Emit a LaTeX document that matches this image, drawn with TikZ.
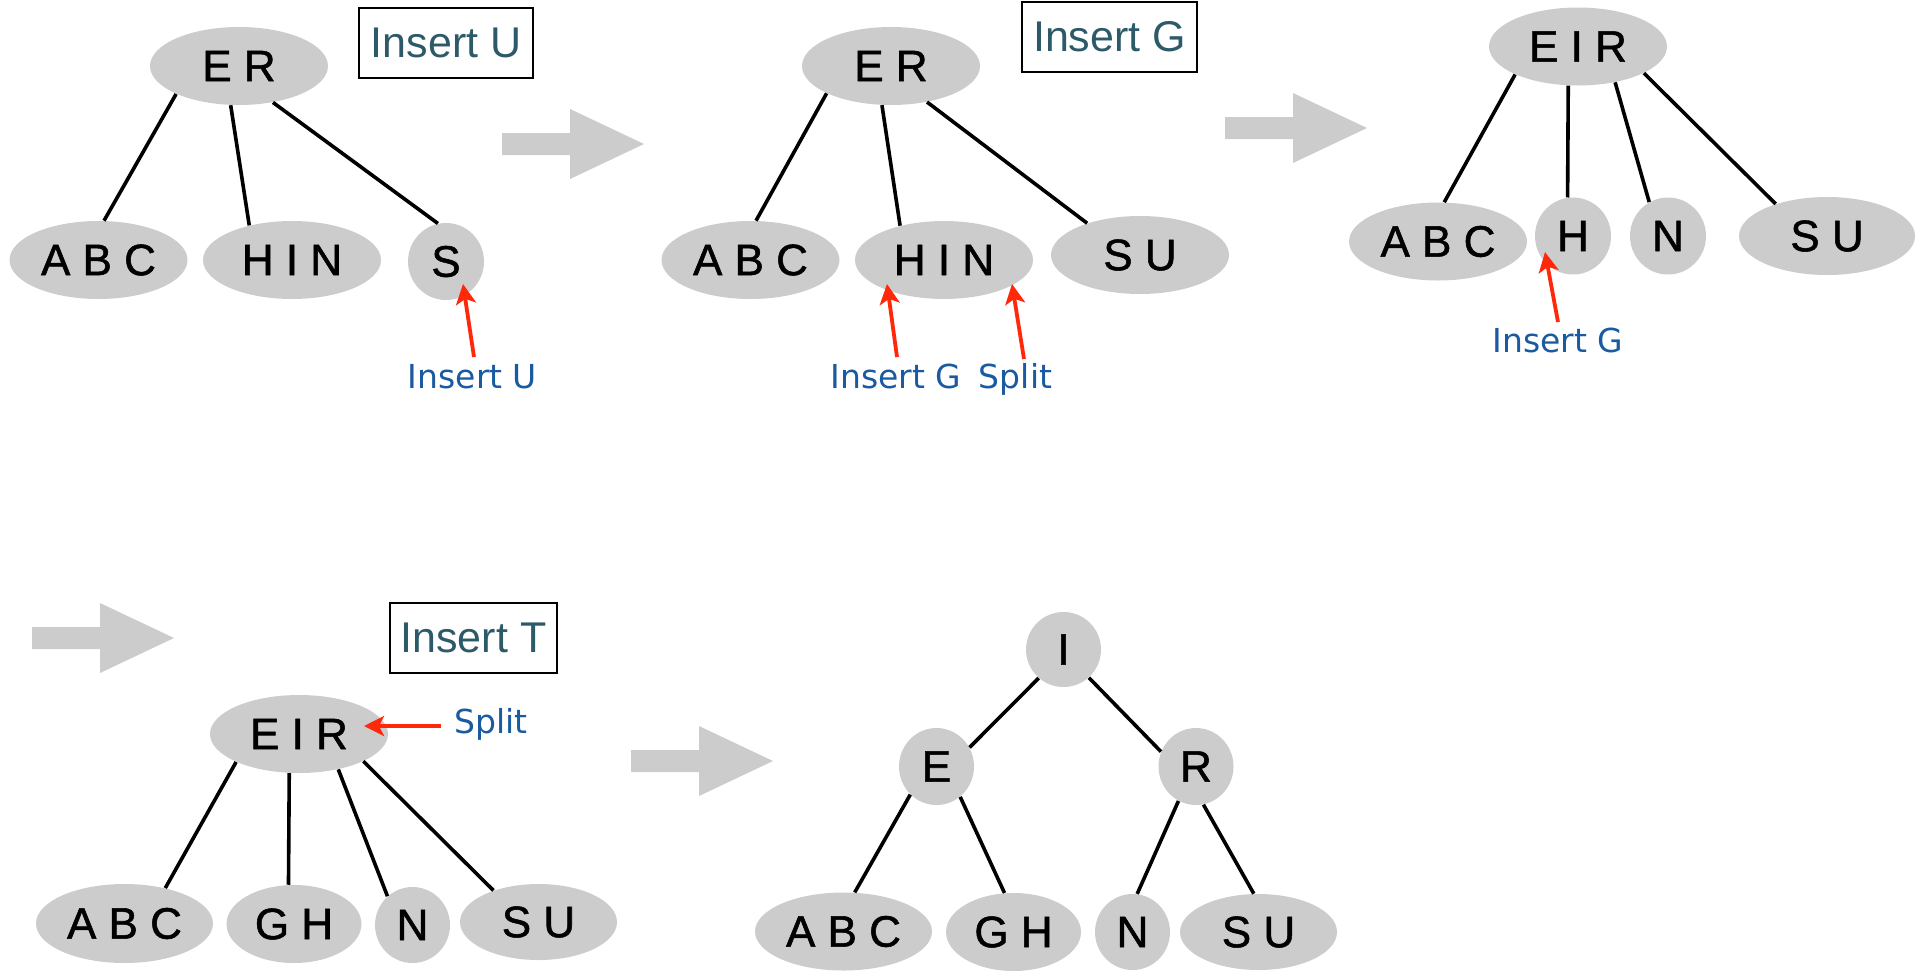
\documentclass[tikz,border=0pt]{standalone}
\usepackage{fontspec}
\setmainfont{Liberation Sans}
\newfontfamily\nodefont{Liberation Sans}[FakeBold=1.2]
\newfontfamily\lblfont{DejaVu Sans}
\usetikzlibrary{shapes.geometric,arrows.meta}
\definecolor{ngray}{RGB}{204,204,204}
\definecolor{boxtxt}{RGB}{45,90,105}
\definecolor{lblblue}{RGB}{25,90,160}
\definecolor{redarr}{RGB}{255,40,10}
\tikzset{
  nd/.style 2 args={ellipse, fill=ngray, inner sep=0pt, minimum width=#1, minimum height=#2, font=\nodefont\fontsize{22}{26}\selectfont},
  big/.style={nd={89pt}{39pt}},
  circ/.style={nd={38pt}{38.5pt}},
  gh/.style={nd={67.5pt}{39pt}},
  sutwo/.style={nd={78.5pt}{38pt}},
  edge/.style={line width=1.8pt, black},
  opbox/.style={draw=black, line width=0.9pt, minimum width=#1, minimum height=35pt, inner sep=0pt, text=boxtxt, font=\fontsize{21.5}{25}\selectfont},
  lbl/.style={text=lblblue, font=\lblfont\fontsize{16.5}{20}\selectfont, anchor=base, inner sep=0pt},
  redarrow/.style={draw=redarr, line width=1.9pt, -{Stealth[length=10pt,width=10pt,inset=2.5pt]}},
}
\newcommand\grayarrow[2]{\fill[ngray] (#1,#2) ++(0,-11) -- ++(68,0) -- ++(0,-24) -- ++(74,35) -- ++(-74,35) -- ++(0,-24) -- ++(-68,0) -- cycle;}
\begin{document}
\begin{tikzpicture}[x=0.5pt,y=-0.5pt]
\useasboundingbox (0,0) rectangle (1915,970);

% gray arrows
\grayarrow{502}{144}
\grayarrow{1225}{128}
\grayarrow{32}{638}
\grayarrow{631}{761}

% ---------- panel 1 ----------
\node[big] (p1er) at (239,66) {E R};
\node[big] (p1abc) at (98.5,260) {A B C};
\node[big] (p1hin) at (292,260) {H I N};
\node[circ] (p1s) at (446,261.5) {S};
\node[opbox=87pt] (p1box) at (446,43) {Insert U};
\node[lbl] (p1lbl) at (472.5,388) {Insert U};
\coordinate (p1a) at (474,357);
\coordinate (p1b) at (463,284);
\draw[edge] (p1er.204) -- (p1abc.82);
\draw[edge] (p1er.258) -- (p1hin.141);
\draw[edge] (p1er.313) -- (p1s.102);
\draw[redarrow] (p1a) -- (p1b);

% ---------- panel 2 ----------
\node[big] (p2er) at (891,66) {E R};
\node[big] (p2abc) at (750.5,260) {A B C};
\node[big] (p2hin) at (944,260) {H I N};
\node[big] (p2su) at (1140,255) {S U};
\node[opbox=87.5pt] (p2box) at (1109.5,37) {Insert G};
\node[lbl] (p2lbl) at (896,388) {Insert G};
\node[lbl] (p2split) at (1015.5,388) {Split};
\coordinate (p2a) at (897,357);
\coordinate (p2b) at (887,284);
\coordinate (p2c) at (1024,359);
\coordinate (p2d) at (1012,284);
\draw[edge] (p2er.203) -- (p2abc.82);
\draw[edge] (p2er.257) -- (p2hin.142);
\draw[edge] (p2er.315) -- (p2su.149);
\draw[redarrow] (p2a) -- (p2b);
\draw[redarrow] (p2c) -- (p2d);

% ---------- panel 3 ----------
\node[big] (p3eir) at (1578,46.5) {E I R};
\node[big] (p3abc) at (1438,241.5) {A B C};
\node[circ] (p3h) at (1573,236) {H};
\node[circ] (p3n) at (1668,236) {N};
\node[nd={88pt}{39pt}] (p3su) at (1827,236) {S U};
\node[lbl] (p3lbl) at (1558,352) {Insert G};
\coordinate (p3a) at (1558,322);
\coordinate (p3b) at (1545,252);
\draw[edge] (p3eir.204) -- (p3abc.81);
\draw[edge] (p3eir.256) -- (p3h.98);
\draw[edge] (p3eir.316) -- (p3n.119);
\draw[edge] (p3eir.338) -- (p3su.148);
\draw[redarrow] (p3a) -- (p3b);

% ---------- panel 4 ----------
\node[opbox=83.5pt] (p4box) at (473.5,638) {Insert T};
\node[big] (p4eir) at (299,734) {E I R};
\node[nd={88.5pt}{39.5pt}] (p4abc) at (124.5,923.5) {A B C};
\node[gh] (p4gh) at (294,924) {G H};
\node[nd={37.5pt}{38pt}] (p4n) at (412.5,925) {N};
\node[sutwo] (p4su) at (538.5,922) {S U};
\node[lbl] (p4split) at (491,733) {Split};
\coordinate (p4a) at (441,726);
\coordinate (p4b) at (364,726);
\draw[edge] (p4eir.204) -- (p4abc.41);
\draw[edge] (p4eir.256) -- (p4gh.98);
\draw[edge] (p4eir.318) -- (p4n.131);
\draw[edge] (p4eir.337) -- (p4su.145);
\draw[redarrow] (p4a) -- (p4b);

% ---------- panel 5 ----------
\node[nd={37.5pt}{37.5pt}] (p5i) at (1063.5,649.5) {I};
\node[nd={37.5pt}{38.5pt}] (p5e) at (936.5,766.5) {E};
\node[nd={37.5pt}{38.5pt}] (p5r) at (1196,766.5) {R};
\node[nd={88.5pt}{39pt}] (p5abc) at (843.5,931.5) {A B C};
\node[gh] (p5gh) at (1013.5,932) {G H};
\node[nd={37.5pt}{38pt}] (p5n) at (1132.5,932) {N};
\node[sutwo] (p5su) at (1258.5,932) {S U};
\draw[edge] (p5i.229) -- (p5e.30);
\draw[edge] (p5i.312) -- (p5r.157);
\draw[edge] (p5e.227) -- (p5abc.74);
\draw[edge] (p5e.308) -- (p5gh.103);
\draw[edge] (p5r.243) -- (p5n.83);
\draw[edge] (p5r.281) -- (p5su.97);
\end{tikzpicture}
\end{document}
